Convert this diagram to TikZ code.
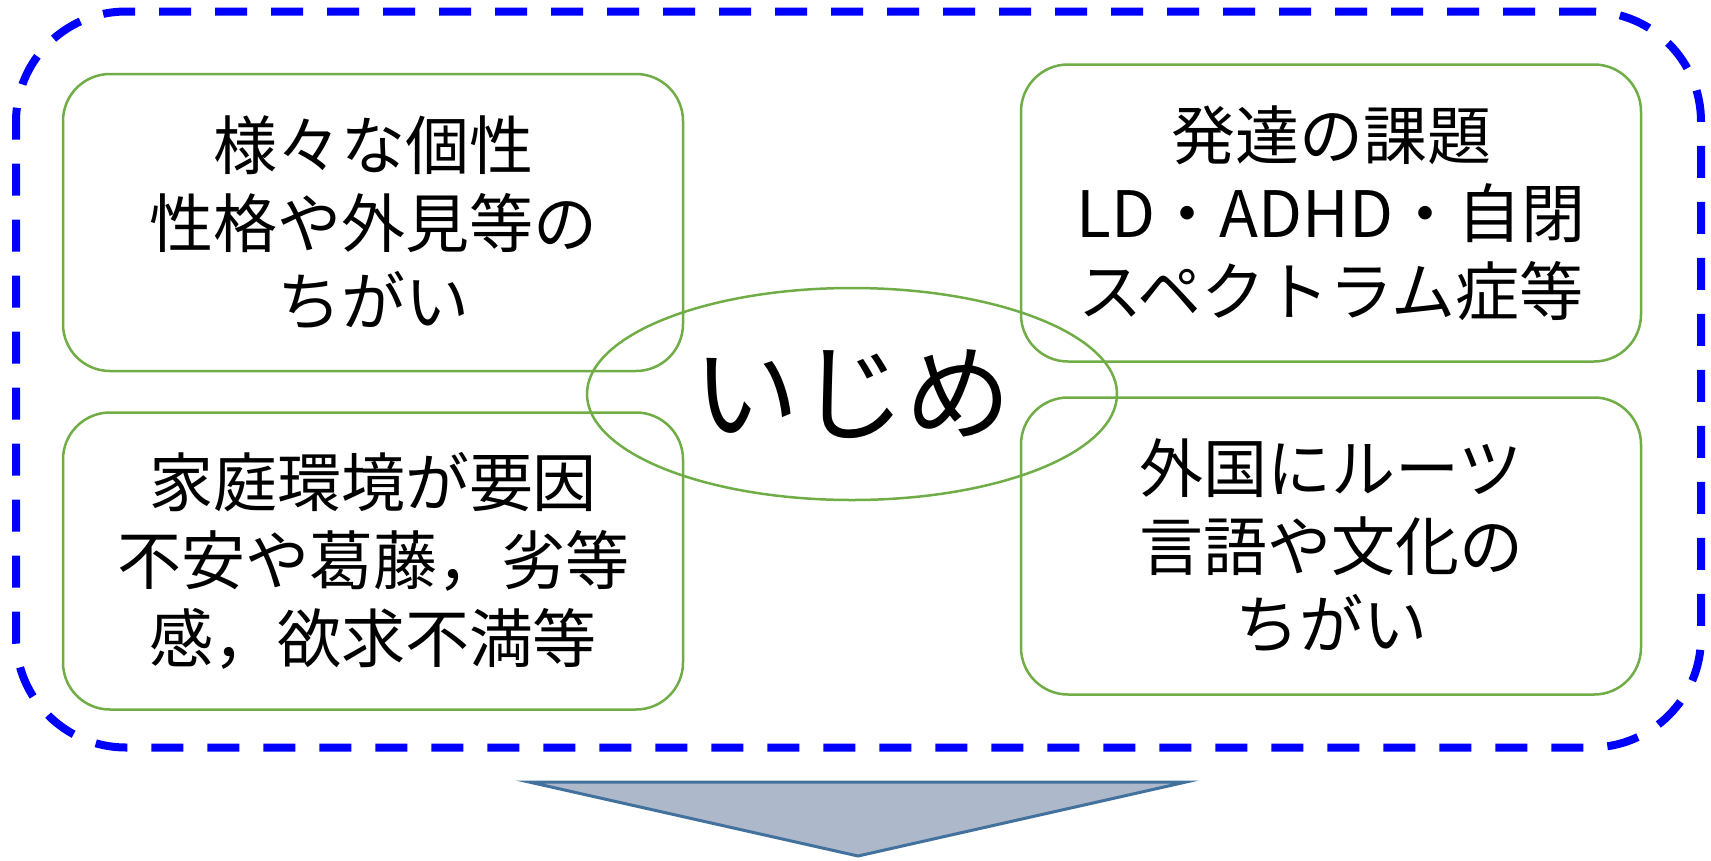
\documentclass[tikz,border=0pt]{standalone}
\usepackage{fontspec}
\setmainfont{Noto Sans CJK JP}
\usetikzlibrary{shapes.geometric}
\definecolor{boxgreen}{HTML}{70AD47}
\definecolor{frameblue}{HTML}{0000FF}
\definecolor{arrowfill}{HTML}{ADB9CA}
\definecolor{arrowline}{HTML}{41719C}
\tikzset{
  infobox/.style={draw=boxgreen, line width=2.5pt, rounded corners=47pt,
    minimum width=620pt, minimum height=297pt, inner sep=0pt, align=center,
    font=\fontsize{64pt}{78pt}\selectfont},
  outerframe/.style={draw=frameblue, line width=8pt, rounded corners=110pt,
    dash pattern=on 32pt off 24pt, minimum width=1685pt, minimum height=736pt, inner sep=0pt},
  centerellipse/.style={ellipse, draw=boxgreen, line width=2.5pt,
    minimum width=530pt, minimum height=212pt, inner sep=0pt,
    font=\fontsize{106pt}{120pt}\selectfont},
  downarrow/.style={fill=arrowfill, draw=arrowline, line width=3pt, line join=miter}
}
\begin{document}
\begin{tikzpicture}[x=1pt,y=-1pt]
\useasboundingbox (0,0) rectangle (1711,860);
\node[outerframe] (frame) at (858.5,379.5) {};
\node[infobox] (tl) at (373,222.5) {様々な個性\\性格や外見等の\\ちがい};
\node[infobox] (bl) at (373,561) {家庭環境が要因\\不安や葛藤，劣等\\感，欲求不満等};
\node[infobox] (tr) at (1331,213) {発達の課題\\LD・ADHD・自閉\\スペクトラム症等};
\node[infobox] (br) at (1331,546) {外国にルーツ\\言語や文化の\\ちがい};
\node[centerellipse] (ijime) at (852,394) {いじめ};
\coordinate (al) at (529,782);
\coordinate (ar) at (1186,782);
\coordinate (at) at (858,856);
\draw[downarrow] (al) -- (ar) -- (at) -- cycle;
\end{tikzpicture}
\end{document}
